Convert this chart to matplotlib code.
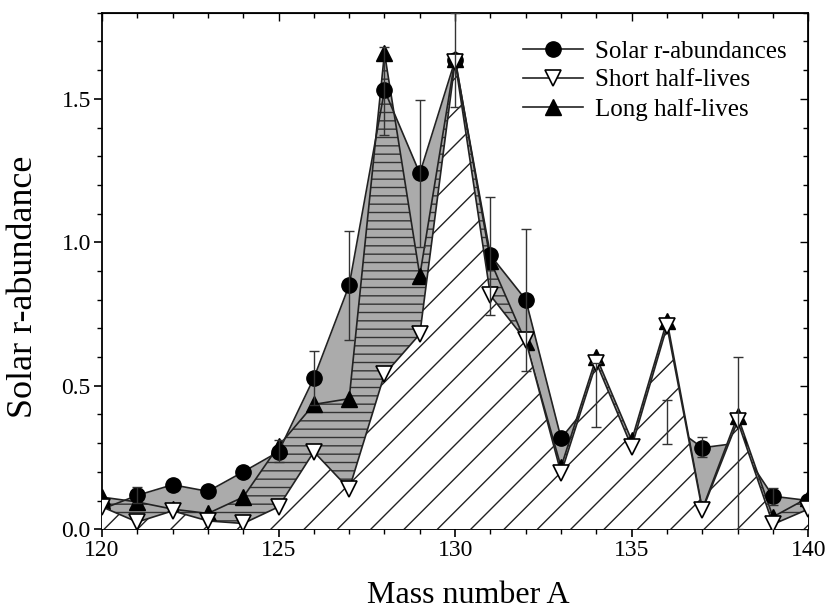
import numpy as np
import matplotlib
matplotlib.use("Agg")
import matplotlib.pyplot as plt
from matplotlib.ticker import MultipleLocator

plt.rcParams['font.family'] = ['Liberation Serif', 'DejaVu Serif']
plt.rcParams['hatch.linewidth'] = 1.0

# mass numbers
mass = np.arange(120, 141)

# solar r-process abundances
solar = [0.07, 0.118, 0.155, 0.132, 0.20, 0.27, 0.527, 0.85, 1.53, 1.24, 1.635,
         0.955, 0.80, 0.317, 0.468, 0.25, 0.374, 0.284, 0.30, 0.115, 0.10]
# calculation with short half-lives
short = [0.078, 0.025, 0.064, 0.029, 0.02, 0.078, 0.27, 0.14, 0.54, 0.68, 1.63,
         0.815, 0.658, 0.195, 0.58, 0.287, 0.707, 0.066, 0.377, 0.017, 0.07]
# calculation with long half-lives
long_ = [0.112, 0.095, 0.07, 0.055, 0.112, 0.29, 0.435, 0.455, 1.66, 0.884, 1.64,
         0.935, 0.652, 0.217, 0.60, 0.31, 0.727, 0.07, 0.395, 0.043, 0.11]

# error bars on the solar values (low, high)
err_mass = [121, 125, 126, 127, 128, 129, 130, 131, 132, 134, 136, 137, 138, 139]
err_lo = [0.09, 0.235, 0.434, 0.66, 1.375, 0.985, 1.47, 0.748, 0.55, 0.356, 0.298, 0.25, 0.0, 0.085]
err_hi = [0.146, 0.31, 0.62, 1.04, 1.68, 1.495, 1.80, 1.157, 1.047, 0.58, 0.449, 0.32, 0.60, 0.145]

fig = plt.figure(figsize=(8.29, 6.09), dpi=100)
ax = fig.add_axes([0.123, 0.131, 0.852, 0.848])

lc = '#222222'
# gray band under the solar curve, hatched band under the long half-lives
ax.fill_between(mass, 0, solar, color='#ababab', lw=0, zorder=1)
ax.fill_between(mass, 0, long_, facecolor='#ababab', edgecolor='#333333',
                hatch='--', lw=0, zorder=2)

ax.plot(mass, long_, '-^', color=lc, lw=1.2, mfc='black', mec='black', ms=12,
        zorder=3, label='Long half-lives')
ax.plot(mass, solar, '-o', color=lc, lw=1.2, mfc='black', mec='black', ms=11,
        zorder=4, label='Solar r-abundances')

# white hatched area under the short half-lives covers what lies below it
ax.fill_between(mass, 0, short, facecolor='white', edgecolor='#222222',
                hatch='/', lw=0, zorder=5)
ax.plot(mass, short, '-v', color=lc, lw=1.2, mfc='white', mec='black', ms=12,
        mew=1.2, zorder=6, label='Short half-lives')

lo = np.array(err_lo)
hi = np.array(err_hi)
ax.errorbar(err_mass, (lo + hi) / 2, yerr=(hi - lo) / 2, fmt='none',
            ecolor='#333333', elinewidth=1.0, capsize=3.6, capthick=1.0, zorder=8)

ax.set_xlim(120, 140)
ax.set_ylim(0, 1.8)
ax.xaxis.set_major_locator(MultipleLocator(5))
ax.xaxis.set_minor_locator(MultipleLocator(1))
ax.yaxis.set_major_locator(MultipleLocator(0.5))
ax.yaxis.set_minor_locator(MultipleLocator(0.1))
ax.yaxis.set_major_formatter(plt.FormatStrFormatter('%.1f'))
ax.tick_params(which='major', direction='out', length=6, width=1.2, labelsize=17, pad=2)
ax.tick_params(which='minor', direction='out', length=3.5, width=1.0)
for s in ax.spines.values():
    s.set_linewidth(1.3)

top = ax.secondary_xaxis('top')
top.xaxis.set_major_locator(MultipleLocator(5))
top.xaxis.set_minor_locator(MultipleLocator(1))
top.tick_params(which='both', direction='in', labeltop=False, width=1.0)
top.tick_params(which='major', length=6)
top.tick_params(which='minor', length=3.5)
right = ax.secondary_yaxis('right')
right.yaxis.set_major_locator(MultipleLocator(0.5))
right.yaxis.set_minor_locator(MultipleLocator(0.1))
right.tick_params(which='both', direction='in', labelright=False, width=1.0)
right.tick_params(which='major', length=6)
right.tick_params(which='minor', length=3.5)

ax.set_xlabel('Mass number A', fontsize=23)
ax.set_ylabel('Solar r-abundance', fontsize=26)
ax.xaxis.set_label_coords(0.518, -0.1)
ax.yaxis.set_label_coords(-0.088, 0.47)

h, l = ax.get_legend_handles_labels()
order = [1, 2, 0]
ax.legend([h[i] for i in order], [l[i] for i in order],
          loc='upper right', bbox_to_anchor=(0.97, 0.947), frameon=False,
          fontsize=18, borderpad=0, borderaxespad=0, labelspacing=0.25,
          handlelength=2.4, handletextpad=0.5, numpoints=1)

fig.savefig('out.png', dpi=100)
